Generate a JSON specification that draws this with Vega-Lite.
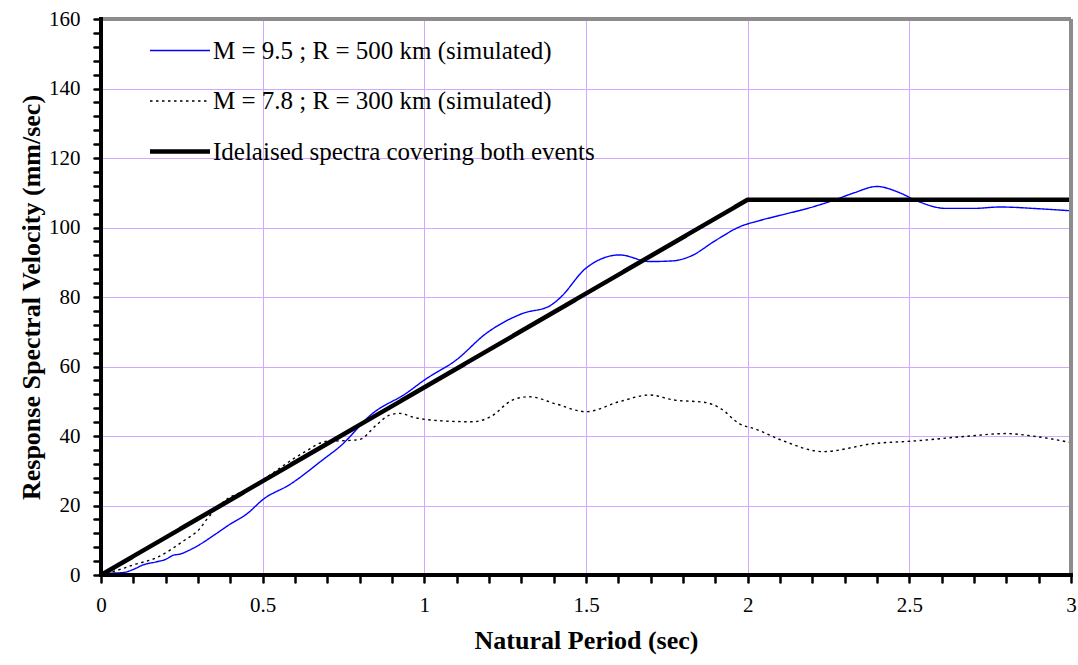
{
  "$schema": "https://vega.github.io/schema/vega-lite/v6.json",
  "width": 970,
  "height": 556,
  "autosize": {"type": "none"},
  "padding": {"left": 101, "top": 19, "right": 7, "bottom": 90},
  "background": "white",
  "config": {
    "view": {"stroke": null},
    "font": "Liberation Serif"
  },
  "data": {
    "values": [
      {"series": "M = 9.5 ; R = 500 km (simulated)", "period": 0, "velocity": 0},
      {"series": "M = 9.5 ; R = 500 km (simulated)", "period": 0.03, "velocity": 0.5},
      {"series": "M = 9.5 ; R = 500 km (simulated)", "period": 0.069, "velocity": 0.7},
      {"series": "M = 9.5 ; R = 500 km (simulated)", "period": 0.1, "velocity": 1.6},
      {"series": "M = 9.5 ; R = 500 km (simulated)", "period": 0.13, "velocity": 2.9},
      {"series": "M = 9.5 ; R = 500 km (simulated)", "period": 0.172, "velocity": 3.8},
      {"series": "M = 9.5 ; R = 500 km (simulated)", "period": 0.2, "velocity": 4.5},
      {"series": "M = 9.5 ; R = 500 km (simulated)", "period": 0.224, "velocity": 5.7},
      {"series": "M = 9.5 ; R = 500 km (simulated)", "period": 0.244, "velocity": 6.0},
      {"series": "M = 9.5 ; R = 500 km (simulated)", "period": 0.27, "velocity": 7.0},
      {"series": "M = 9.5 ; R = 500 km (simulated)", "period": 0.306, "velocity": 8.8},
      {"series": "M = 9.5 ; R = 500 km (simulated)", "period": 0.35, "velocity": 11.5},
      {"series": "M = 9.5 ; R = 500 km (simulated)", "period": 0.399, "velocity": 14.6},
      {"series": "M = 9.5 ; R = 500 km (simulated)", "period": 0.45, "velocity": 17.5},
      {"series": "M = 9.5 ; R = 500 km (simulated)", "period": 0.502, "velocity": 21.8},
      {"series": "M = 9.5 ; R = 500 km (simulated)", "period": 0.585, "velocity": 26.1},
      {"series": "M = 9.5 ; R = 500 km (simulated)", "period": 0.688, "velocity": 33.3},
      {"series": "M = 9.5 ; R = 500 km (simulated)", "period": 0.738, "velocity": 36.9},
      {"series": "M = 9.5 ; R = 500 km (simulated)", "period": 0.84, "velocity": 46.5},
      {"series": "M = 9.5 ; R = 500 km (simulated)", "period": 0.944, "velocity": 52.3},
      {"series": "M = 9.5 ; R = 500 km (simulated)", "period": 1.0, "velocity": 56.1},
      {"series": "M = 9.5 ; R = 500 km (simulated)", "period": 1.099, "velocity": 61.9},
      {"series": "M = 9.5 ; R = 500 km (simulated)", "period": 1.191, "velocity": 69.5},
      {"series": "M = 9.5 ; R = 500 km (simulated)", "period": 1.305, "velocity": 75.3},
      {"series": "M = 9.5 ; R = 500 km (simulated)", "period": 1.387, "velocity": 77.4},
      {"series": "M = 9.5 ; R = 500 km (simulated)", "period": 1.418, "velocity": 79.6},
      {"series": "M = 9.5 ; R = 500 km (simulated)", "period": 1.5, "velocity": 88.3},
      {"series": "M = 9.5 ; R = 500 km (simulated)", "period": 1.604, "velocity": 92.1},
      {"series": "M = 9.5 ; R = 500 km (simulated)", "period": 1.697, "velocity": 90.2},
      {"series": "M = 9.5 ; R = 500 km (simulated)", "period": 1.769, "velocity": 90.4},
      {"series": "M = 9.5 ; R = 500 km (simulated)", "period": 1.82, "velocity": 91.6},
      {"series": "M = 9.5 ; R = 500 km (simulated)", "period": 1.903, "velocity": 96.4},
      {"series": "M = 9.5 ; R = 500 km (simulated)", "period": 1.975, "velocity": 100.2},
      {"series": "M = 9.5 ; R = 500 km (simulated)", "period": 2.037, "velocity": 102.0},
      {"series": "M = 9.5 ; R = 500 km (simulated)", "period": 2.1, "velocity": 103.5},
      {"series": "M = 9.5 ; R = 500 km (simulated)", "period": 2.193, "velocity": 105.7},
      {"series": "M = 9.5 ; R = 500 km (simulated)", "period": 2.265, "velocity": 107.8},
      {"series": "M = 9.5 ; R = 500 km (simulated)", "period": 2.33, "velocity": 110.0},
      {"series": "M = 9.5 ; R = 500 km (simulated)", "period": 2.399, "velocity": 111.8},
      {"series": "M = 9.5 ; R = 500 km (simulated)", "period": 2.47, "velocity": 110.0},
      {"series": "M = 9.5 ; R = 500 km (simulated)", "period": 2.52, "velocity": 107.8},
      {"series": "M = 9.5 ; R = 500 km (simulated)", "period": 2.613, "velocity": 105.5},
      {"series": "M = 9.5 ; R = 500 km (simulated)", "period": 2.7, "velocity": 105.5},
      {"series": "M = 9.5 ; R = 500 km (simulated)", "period": 2.78, "velocity": 105.9},
      {"series": "M = 9.5 ; R = 500 km (simulated)", "period": 2.9, "velocity": 105.4},
      {"series": "M = 9.5 ; R = 500 km (simulated)", "period": 3.0, "velocity": 104.8},

      {"series": "M = 7.8 ; R = 300 km (simulated)", "period": 0, "velocity": 0},
      {"series": "M = 7.8 ; R = 300 km (simulated)", "period": 0.059, "velocity": 1.6},
      {"series": "M = 7.8 ; R = 300 km (simulated)", "period": 0.1, "velocity": 2.9},
      {"series": "M = 7.8 ; R = 300 km (simulated)", "period": 0.172, "velocity": 5.0},
      {"series": "M = 7.8 ; R = 300 km (simulated)", "period": 0.255, "velocity": 9.8},
      {"series": "M = 7.8 ; R = 300 km (simulated)", "period": 0.306, "velocity": 13.4},
      {"series": "M = 7.8 ; R = 300 km (simulated)", "period": 0.327, "velocity": 16.0},
      {"series": "M = 7.8 ; R = 300 km (simulated)", "period": 0.389, "velocity": 21.8},
      {"series": "M = 7.8 ; R = 300 km (simulated)", "period": 0.45, "velocity": 24.5},
      {"series": "M = 7.8 ; R = 300 km (simulated)", "period": 0.502, "velocity": 27.5},
      {"series": "M = 7.8 ; R = 300 km (simulated)", "period": 0.626, "velocity": 35.2},
      {"series": "M = 7.8 ; R = 300 km (simulated)", "period": 0.7, "velocity": 38.5},
      {"series": "M = 7.8 ; R = 300 km (simulated)", "period": 0.738, "velocity": 38.6},
      {"series": "M = 7.8 ; R = 300 km (simulated)", "period": 0.8, "velocity": 39.0},
      {"series": "M = 7.8 ; R = 300 km (simulated)", "period": 0.85, "velocity": 43.0},
      {"series": "M = 7.8 ; R = 300 km (simulated)", "period": 0.892, "velocity": 46.0},
      {"series": "M = 7.8 ; R = 300 km (simulated)", "period": 0.923, "velocity": 46.5},
      {"series": "M = 7.8 ; R = 300 km (simulated)", "period": 0.97, "velocity": 45.3},
      {"series": "M = 7.8 ; R = 300 km (simulated)", "period": 1.047, "velocity": 44.4},
      {"series": "M = 7.8 ; R = 300 km (simulated)", "period": 1.15, "velocity": 44.1},
      {"series": "M = 7.8 ; R = 300 km (simulated)", "period": 1.202, "velocity": 45.4},
      {"series": "M = 7.8 ; R = 300 km (simulated)", "period": 1.274, "velocity": 50.4},
      {"series": "M = 7.8 ; R = 300 km (simulated)", "period": 1.325, "velocity": 51.3},
      {"series": "M = 7.8 ; R = 300 km (simulated)", "period": 1.408, "velocity": 49.2},
      {"series": "M = 7.8 ; R = 300 km (simulated)", "period": 1.5, "velocity": 47.0},
      {"series": "M = 7.8 ; R = 300 km (simulated)", "period": 1.604, "velocity": 49.9},
      {"series": "M = 7.8 ; R = 300 km (simulated)", "period": 1.697, "velocity": 51.8},
      {"series": "M = 7.8 ; R = 300 km (simulated)", "period": 1.769, "velocity": 50.4},
      {"series": "M = 7.8 ; R = 300 km (simulated)", "period": 1.872, "velocity": 49.6},
      {"series": "M = 7.8 ; R = 300 km (simulated)", "period": 1.915, "velocity": 48.0},
      {"series": "M = 7.8 ; R = 300 km (simulated)", "period": 1.975, "velocity": 43.5},
      {"series": "M = 7.8 ; R = 300 km (simulated)", "period": 2.027, "velocity": 41.9},
      {"series": "M = 7.8 ; R = 300 km (simulated)", "period": 2.11, "velocity": 38.6},
      {"series": "M = 7.8 ; R = 300 km (simulated)", "period": 2.234, "velocity": 35.5},
      {"series": "M = 7.8 ; R = 300 km (simulated)", "period": 2.388, "velocity": 37.8},
      {"series": "M = 7.8 ; R = 300 km (simulated)", "period": 2.52, "velocity": 38.6},
      {"series": "M = 7.8 ; R = 300 km (simulated)", "period": 2.675, "velocity": 39.9},
      {"series": "M = 7.8 ; R = 300 km (simulated)", "period": 2.8, "velocity": 40.7},
      {"series": "M = 7.8 ; R = 300 km (simulated)", "period": 2.88, "velocity": 40.0},
      {"series": "M = 7.8 ; R = 300 km (simulated)", "period": 3.0, "velocity": 38.1},

      {"series": "Idelaised spectra covering both events", "period": 0, "velocity": 0},
      {"series": "Idelaised spectra covering both events", "period": 2, "velocity": 108},
      {"series": "Idelaised spectra covering both events", "period": 3, "velocity": 108}
    ]
  },
  "resolve": {"axis": {"x": "independent", "y": "independent"}},
  "layer": [
    {
      "transform": [{"filter": "datum.series != 'Idelaised spectra covering both events'"}],
      "mark": {"type": "line", "interpolate": "monotone", "clip": true, "strokeWidth": 1.4},
      "encoding": {
        "x": {
          "field": "period",
          "type": "quantitative",
          "scale": {"domain": [0, 3], "nice": false, "zero": false},
          "axis": {
            "title": "Natural Period (sec)",
            "titleFont": "Liberation Serif",
            "titleFontSize": 26,
            "titleFontWeight": "bold",
            "titleColor": "black",
            "titlePadding": 12,
            "values": [0, 0.1, 0.2, 0.3, 0.4, 0.5, 0.6, 0.7, 0.8, 0.9, 1, 1.1, 1.2, 1.3, 1.4, 1.5, 1.6, 1.7, 1.8, 1.9, 2, 2.1, 2.2, 2.3, 2.4, 2.5, 2.6, 2.7, 2.8, 2.9, 3],
            "labelExpr": "abs(datum.value*2 - round(datum.value*2)) < 0.001 ? toString(round(datum.value*2)/2) : ''",
            "labelFont": "Liberation Serif",
            "labelFontSize": 21,
            "labelColor": "black",
            "labelPadding": 12,
            "labelFlush": false,
            "labelOverlap": false,
            "domain": false,
            "tickColor": "black",
            "tickWidth": 2.5,
            "tickCap": "round",
            "tickSize": 7,
            "grid": true,
            "gridColor": "#cfa8ff",
            "gridWidth": 1,
            "gridOpacity": {"condition": {"test": "abs(datum.value*2 - round(datum.value*2)) < 0.001", "value": 1}, "value": 0}
          }
        },
        "y": {
          "field": "velocity",
          "type": "quantitative",
          "scale": {"domain": [0, 160], "nice": false},
          "axis": {
            "title": "Response Spectral Velocity (mm/sec)",
            "titleFont": "Liberation Serif",
            "titleFontSize": 26,
            "titleFontWeight": "bold",
            "titleColor": "black",
            "titlePadding": 4,
            "values": [0, 4, 8, 12, 16, 20, 24, 28, 32, 36, 40, 44, 48, 52, 56, 60, 64, 68, 72, 76, 80, 84, 88, 92, 96, 100, 104, 108, 112, 116, 120, 124, 128, 132, 136, 140, 144, 148, 152, 156, 160],
            "labelExpr": "datum.value % 20 == 0 ? datum.label : ''",
            "labelFont": "Liberation Serif",
            "labelFontSize": 21,
            "labelColor": "black",
            "labelPadding": 14,
            "labelFlush": false,
            "labelOverlap": false,
            "domain": false,
            "tickColor": "black",
            "tickWidth": 2.5,
            "tickCap": "round",
            "tickSize": 7,
            "grid": true,
            "gridColor": "#cfa8ff",
            "gridWidth": 1,
            "gridOpacity": {"condition": {"test": "datum.value % 20 == 0", "value": 1}, "value": 0}
          }
        },
        "color": {
          "field": "series",
          "type": "nominal",
          "scale": {
            "domain": ["M = 9.5 ; R = 500 km (simulated)", "M = 7.8 ; R = 300 km (simulated)", "Idelaised spectra covering both events"],
            "range": ["#0000ff", "#000000", "#000000"]
          },
          "legend": {
            "orient": "none",
            "legendX": 66.5,
            "legendY": 19,
            "title": null,
            "symbolType": "stroke",
            "symbolSize": 3600,
            "symbolStrokeWidth": 1.4,
            "rowPadding": 24.5,
            "labelFont": "Liberation Serif",
            "labelFontSize": 25,
            "labelColor": "black",
            "labelOffset": 20.5,
            "padding": 0,
            "labelLimit": 700,
            "encode": {
              "symbols": {
                "update": {
                  "size": {"value": 3600},
                  "strokeWidth": {"signal": "datum.value == 'Idelaised spectra covering both events' ? 4.5 : 1.4"}
                }
              }
            }
          }
        },
        "strokeDash": {
          "field": "series",
          "type": "nominal",
          "scale": {
            "domain": ["M = 9.5 ; R = 500 km (simulated)", "M = 7.8 ; R = 300 km (simulated)", "Idelaised spectra covering both events"],
            "range": [[1, 0], [2.5, 3.5], [1, 0]]
          }
        }
      }
    },
    {
      "transform": [{"filter": "datum.series == 'Idelaised spectra covering both events'"}],
      "mark": {"type": "line", "interpolate": "linear", "clip": true, "strokeWidth": 4.5},
      "encoding": {
        "x": {"field": "period", "type": "quantitative", "axis": null},
        "y": {"field": "velocity", "type": "quantitative", "axis": null},
        "color": {"field": "series", "type": "nominal"},
        "strokeDash": {"field": "series", "type": "nominal"}
      }
    },
    {
      "mark": {"type": "rule", "stroke": "#8c8c8c", "color": "#8c8c8c", "strokeWidth": 3},
      "encoding": {
        "x": {"datum": 0, "type": "quantitative", "axis": null},
        "x2": {"datum": 3},
        "y": {"datum": 160, "type": "quantitative", "axis": null}
      }
    },
    {
      "mark": {"type": "rule", "stroke": "#8c8c8c", "color": "#8c8c8c", "strokeWidth": 3},
      "encoding": {
        "x": {"datum": 3, "type": "quantitative", "axis": null},
        "y": {"datum": 0, "type": "quantitative", "axis": null},
        "y2": {"datum": 160}
      }
    },
    {
      "mark": {"type": "rule", "stroke": "black", "color": "black", "strokeWidth": 4, "strokeCap": "round"},
      "encoding": {
        "x": {"datum": 0, "type": "quantitative", "axis": null},
        "x2": {"datum": 3},
        "y": {"datum": 0, "type": "quantitative", "axis": null}
      }
    },
    {
      "mark": {"type": "rule", "stroke": "black", "color": "black", "strokeWidth": 4, "strokeCap": "round"},
      "encoding": {
        "x": {"datum": 0, "type": "quantitative", "axis": null},
        "y": {"datum": 0, "type": "quantitative", "axis": null},
        "y2": {"datum": 160}
      }
    }
  ]
}
